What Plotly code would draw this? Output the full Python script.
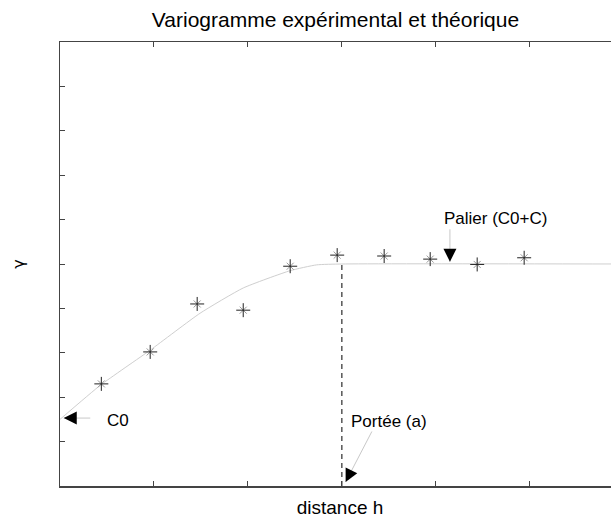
import plotly.graph_objects as go

# ── Data ──────────────────────────────────────────────────────────────────────
# experimental variogram (distance h, gamma)
exp_h = [0.44, 0.96, 1.46, 1.95, 2.45, 2.95, 3.45, 3.94, 4.44, 4.94]
exp_gamma = [2.30, 3.02, 4.10, 3.96, 4.95, 5.20, 5.18, 5.11, 4.99, 5.14]

# theoretical (fitted) curve as drawn
model_h = [0.0, 0.43, 0.96, 1.49, 1.95, 2.45, 2.73, 3.0, 6.0]
model_gamma = [1.50, 2.27, 3.06, 3.89, 4.46, 4.85, 4.98, 5.0, 5.0]

C0 = 1.5        # nugget
SILL = 5.0      # palier (C0 + C)
RANGE_A = 3.0   # portée

X_MAX = 5.96    # the frame runs past the right edge of the window
Y_MAX = 10

_FONT = "Liberation Sans, Arial, Helvetica, sans-serif"
_AXIS = "#444444"

fig = go.Figure()

# theoretical model
fig.add_trace(go.Scatter(
    x=model_h, y=model_gamma, mode="lines",
    line=dict(color="#cfcfcf", width=1, shape="spline", smoothing=0.5),
    hoverinfo="skip",
))

# range marker (dashed vertical)
fig.add_trace(go.Scatter(
    x=[RANGE_A, RANGE_A], y=[0, SILL], mode="lines",
    line=dict(color="black", width=1, dash="5px,4px"), hoverinfo="skip",
))

# experimental points: gray asterisk + dark cross on top
fig.add_trace(go.Scatter(
    x=exp_h, y=exp_gamma, mode="markers",
    marker=dict(symbol="x-thin-open", size=7, color="#999999",
                line=dict(color="#999999", width=1)),
    hoverinfo="skip",
))
fig.add_trace(go.Scatter(
    x=exp_h, y=exp_gamma, mode="markers",
    marker=dict(symbol="cross-thin-open", size=10, color="#222222",
                line=dict(color="#222222", width=1)),
    hovertemplate="h=%{x}<br>γ=%{y}<extra></extra>",
))


def arrow(x, y, ax, ay, head_ax, head_ay):
    """Gray shaft + small black head, as in the reference."""
    return [
        dict(x=x, y=y, xref="x", yref="y", text="", showarrow=True,
             ax=ax, ay=ay, arrowhead=0, arrowwidth=1, arrowcolor="#c8c8c8",
             standoff=0, startstandoff=0),
        dict(x=x, y=y, xref="x", yref="y", text="", showarrow=True,
             ax=head_ax, ay=head_ay, arrowhead=2, arrowsize=2.6, arrowwidth=1,
             arrowcolor="black", standoff=0, startstandoff=0),
    ]


label_font = dict(family=_FONT, size=17, color="black")
annotations = []
annotations += arrow(0.04, C0 + 0.03, 28, 0, 10, 0)
annotations.append(dict(x=0.62, y=C0 - 0.02, xref="x", yref="y", text="C0",
                        showarrow=False, font=label_font))
annotations += arrow(4.15, SILL + 0.05, 0, -34, 0, -10)
annotations.append(dict(x=4.64, y=SILL + 1.02, xref="x", yref="y", text="Palier (C0+C)",
                        showarrow=False, font=label_font))
annotations += arrow(RANGE_A + 0.04, 0.09, 27, -52, 5, -10)
annotations.append(dict(x=3.5, y=1.46, xref="x", yref="y", text="Portée (a)",
                        showarrow=False, font=label_font))

# figure is a bit wider than the 611px window: the right side gets cropped
fig.update_layout(
    width=620, height=518,
    margin=dict(l=60, r=0, t=42, b=32),
    paper_bgcolor="white", plot_bgcolor="white",
    showlegend=False,
    hovermode=False,
    font=dict(family=_FONT, color="black"),
    title=dict(text="Variogramme expérimental et théorique", xref="paper", x=0.492,
               xanchor="center", y=0.962, yanchor="middle",
               font=dict(family=_FONT, size=21)),
    xaxis=dict(
        range=[0, X_MAX], tickvals=[0, 1, 2, 3, 4, 5], showticklabels=False,
        ticks="inside", ticklen=5, tickcolor=_AXIS, tickwidth=1,
        showline=True, linecolor=_AXIS, linewidth=1.5, mirror="ticks",
        showgrid=False, zeroline=False, automargin=False, showspikes=False,
        title=dict(text="distance h", font=dict(family=_FONT, size=19), standoff=17),
    ),
    yaxis=dict(
        range=[0, Y_MAX], tickvals=list(range(0, 11)), showticklabels=False,
        ticks="inside", ticklen=5, tickcolor=_AXIS, tickwidth=1,
        showline=True, linecolor=_AXIS, linewidth=1.5, mirror=False,
        showgrid=False, zeroline=False, automargin=False, showspikes=False,
        title=dict(text="γ", font=dict(family="DejaVu Sans, sans-serif", size=16),
                   standoff=30),
    ),
    annotations=annotations,
)

# drop the default page margin so the figure sits at the window's corner
fig.write_html(
    "out.html",
    config=dict(displayModeBar=False, staticPlot=True),
    post_script="document.body.style.margin='0';document.body.style.overflow='hidden';",
)
